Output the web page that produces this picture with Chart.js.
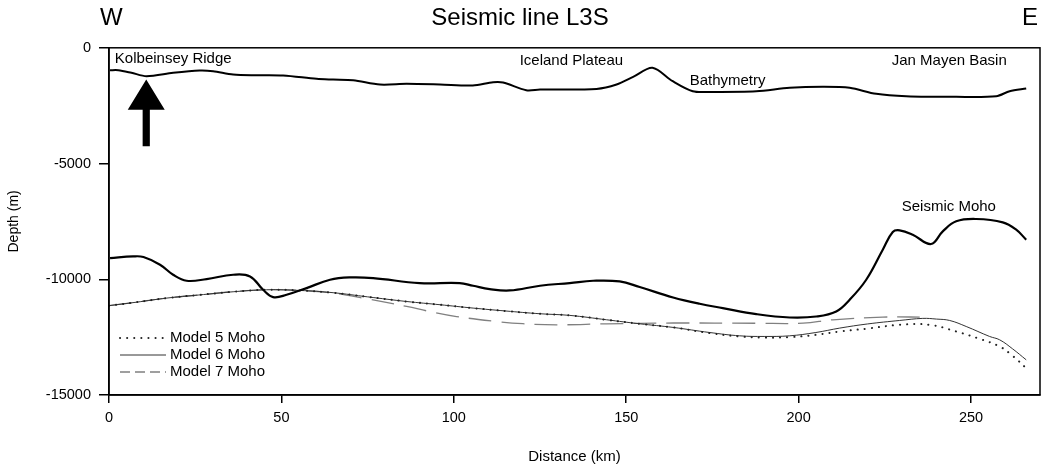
<!DOCTYPE html>
<html>
<head>
<meta charset="utf-8">
<script src="https://cdn.jsdelivr.net/npm/chart.js@4/dist/chart.umd.min.js"></script>
<style>
  html, body { margin: 0; padding: 0; background: #fff; }
  #wrap { width: 1048px; height: 468px; }
</style>
</head>
<body>
<div id="wrap"><canvas id="chart" width="1048" height="468"></canvas></div>
<script>
// distance (km) and depth (m)
const bathyKm = [0.3, 2.7, 6.5, 10.9, 18.6, 26.3, 30.2, 36, 43, 50.5, 60.2, 65, 70.8, 78.6, 86.3, 96, 105.5, 111.4, 114.3, 121, 125, 141.4, 147.2, 152, 157.6, 163.5, 169.3, 174.2, 187.7, 197.4, 207, 214.8, 222.5, 231.2, 245.7, 257.3, 261.2, 266];
const bathyDepth = [-969, -969, -1080, -1228, -1081, -982, -1012, -1155, -1185, -1198, -1341, -1371, -1400, -1587, -1557, -1587, -1630, -1487, -1500, -1833, -1803, -1775, -1587, -1254, -865, -1444, -1877, -1905, -1877, -1730, -1687, -1730, -1990, -2093, -2120, -2093, -1877, -1760];

const mohoKm = [0.3, 7, 10, 14.8, 18.6, 22.5, 28.3, 36, 40.9, 44.7, 47.6, 51.5, 57.3, 64.1, 69.9, 76.6, 90.1, 101.7, 105.6, 110.4, 116.2, 125, 133.6, 140.4, 148.1, 153.9, 163.6, 171.3, 178, 187.7, 197.4, 205.1, 210.9, 214.8, 219.6, 224.4, 227.3, 229.3, 233.1, 238.4, 241.8, 245.7, 251.5, 259.2, 263.1, 266];
const mohoDepth = [-9083, -9012, -9040, -9372, -9805, -10065, -9992, -9805, -9877, -10454, -10770, -10670, -10381, -10021, -9920, -9948, -10164, -10164, -10280, -10424, -10484, -10280, -10164, -10065, -10094, -10337, -10786, -11059, -11245, -11505, -11652, -11610, -11392, -10886, -10021, -8723, -7958, -7887, -8075, -8477, -7930, -7497, -7396, -7540, -7858, -8291];

const model5Km = [0, 8, 16.7, 26, 36, 45.7, 55.4, 65, 75, 86.3, 96, 105.6, 115, 125, 133.6, 144.3, 153.9, 163.6, 174.2, 182.9, 190, 197.4, 205, 211.9, 220, 229.3, 238, 245.7, 252, 258.3, 262, 266];
const model5Depth = [-11140, -10990, -10814, -10680, -10540, -10454, -10483, -10580, -10760, -10960, -11100, -11245, -11370, -11490, -11560, -11750, -11924, -12080, -12327, -12470, -12520, -12500, -12400, -12256, -12130, -11967, -11967, -12256, -12550, -12905, -13300, -13840];

const model6Km = [0, 8, 16.7, 26, 36, 45.7, 55.4, 65, 75, 86.3, 96, 105.6, 115, 125, 133.6, 144.3, 153.9, 163.6, 174.2, 182.9, 190, 197.4, 205, 211.9, 220, 229.3, 236, 240, 243.8, 248.6, 255.4, 258.3, 262, 266];
const model6Depth = [-11140, -10990, -10814, -10680, -10540, -10454, -10483, -10580, -10760, -10960, -11100, -11245, -11370, -11490, -11560, -11750, -11924, -12080, -12300, -12443, -12470, -12443, -12300, -12110, -11930, -11780, -11690, -11720, -11780, -12040, -12472, -12616, -13000, -13481];

const model7Km = [0, 8, 16.7, 26, 36, 45.7, 55.4, 64, 73.7, 86.3, 93, 100.8, 112.4, 120, 129.8, 144.3, 163.6, 187.7, 201.3, 209.9, 224.4, 237];
const model7Depth = [-11140, -10990, -10814, -10680, -10540, -10454, -10483, -10580, -10813, -11173, -11392, -11610, -11824, -11920, -11967, -11924, -11890, -11900, -11895, -11750, -11636, -11636];

const xTicks = [0, 50, 100, 150, 200, 250];
const yTicks = [0, -5000, -10000, -15000];

const legendNames = ["Model 5 Moho", "Model 6 Moho", "Model 7 Moho"];

// text labels placed in data coordinates (km, m)
const notes = [
  { text: "Kolbeinsey Ridge", x: 1.7, y: -476 },
  { text: "Iceland Plateau", x: 119.1, y: -549 },
  { text: "Bathymetry", x: 168.4, y: -1444 },
  { text: "Jan Mayen Basin", x: 227, y: -549 },
  { text: "Seismic Moho", x: 229.9, y: -6864 }
];
const arrowKm = 10.8, arrowTip = -1371, arrowNeck = -2680, arrowTail = -4256;

const FONT = "'Liberation Sans', Arial, sans-serif";

function pts(xs, ys) {
  return xs.map((x, i) => ({ x: x, y: ys[i] }));
}

const lineStyles = [
  { borderColor: "#222", borderWidth: 2, borderDash: [0.1, 7], borderCapStyle: "round" },
  { borderColor: "#333", borderWidth: 1, borderDash: [] , borderCapStyle: "butt" },
  { borderColor: "#808080", borderWidth: 1.3, borderDash: [23, 10], borderCapStyle: "butt" }
];

const decorPlugin = {
  id: "decor",
  afterDraw(chart) {
    const ctx = chart.ctx;
    const a = chart.chartArea;
    const xs = chart.scales.x, ys = chart.scales.y;
    ctx.save();

    // frame
    ctx.strokeStyle = "#000";
    ctx.lineWidth = 1.5;
    ctx.strokeRect(a.left, a.top, a.right - a.left, a.bottom - a.top);

    // W / E
    ctx.fillStyle = "#000";
    ctx.font = "24px " + FONT;
    ctx.textBaseline = "middle";
    ctx.textAlign = "left";
    ctx.fillText("W", a.left - 9, 18);
    ctx.textAlign = "right";
    ctx.fillText("E", a.right - 2, 18);

    // annotations
    ctx.font = "15px " + FONT;
    ctx.textAlign = "left";
    notes.forEach(n => {
      ctx.fillText(n.text, xs.getPixelForValue(n.x), ys.getPixelForValue(n.y));
    });

    // arrow
    const ax = xs.getPixelForValue(arrowKm);
    const tipY = ys.getPixelForValue(arrowTip);
    const neckY = ys.getPixelForValue(arrowNeck);
    const tailY = ys.getPixelForValue(arrowTail);
    ctx.beginPath();
    ctx.moveTo(ax, tipY);
    ctx.lineTo(ax + 18.5, neckY);
    ctx.lineTo(ax + 3.6, neckY);
    ctx.lineTo(ax + 3.6, tailY);
    ctx.lineTo(ax - 3.6, tailY);
    ctx.lineTo(ax - 3.6, neckY);
    ctx.lineTo(ax - 18.5, neckY);
    ctx.closePath();
    ctx.fill();

    // legend
    legendNames.forEach((name, i) => {
      const y = a.bottom - 57 + i * 17;
      const s = lineStyles[i];
      ctx.beginPath();
      ctx.strokeStyle = s.borderColor;
      ctx.lineWidth = s.borderWidth;
      ctx.lineCap = s.borderCapStyle;
      ctx.setLineDash(i === 2 ? [10, 5] : s.borderDash);
      ctx.moveTo(a.left + 11, y);
      ctx.lineTo(a.left + 57, y);
      ctx.stroke();
      ctx.setLineDash([]);
      ctx.fillStyle = "#000";
      ctx.fillText(name, a.left + 61, y);
    });
    ctx.restore();
  }
};

const datasets = [
  { label: "Bathymetry", data: pts(bathyKm, bathyDepth), borderColor: "#000", borderWidth: 2, tension: 0.3 },
  { label: "Seismic Moho", data: pts(mohoKm, mohoDepth), borderColor: "#000", borderWidth: 2.2, tension: 0.4 },
  Object.assign({ label: legendNames[0], data: pts(model5Km, model5Depth), tension: 0.4 }, lineStyles[0]),
  Object.assign({ label: legendNames[1], data: pts(model6Km, model6Depth), tension: 0.4 }, lineStyles[1]),
  Object.assign({ label: legendNames[2], data: pts(model7Km, model7Depth), tension: 0.4 }, lineStyles[2])
];
datasets.forEach(d => {
  d.pointRadius = 0;
  d.fill = false;
});

new Chart(document.getElementById("chart").getContext("2d"), {
  type: "line",
  data: { datasets: datasets },
  options: {
    responsive: false,
    animation: false,
    layout: { padding: { left: 0, right: 8, top: 0, bottom: 0 } },
    plugins: {
      legend: { display: false },
      tooltip: { enabled: false },
      title: {
        display: true,
        text: "Seismic line L3S",
        color: "#000",
        font: { family: FONT, size: 24, weight: "normal" },
        padding: { top: 4, bottom: 15 }
      }
    },
    scales: {
      x: {
        type: "linear",
        min: 0,
        max: 270,
        afterFit(scale) { scale.height = 73; },
        afterBuildTicks(scale) { scale.ticks = xTicks.map(v => ({ value: v })); },
        border: { color: "#000", width: 1.5 },
        grid: { drawOnChartArea: false, tickLength: 8, color: "#000", lineWidth: 1.5 },
        ticks: { color: "#000", padding: 6, maxRotation: 0, font: { family: FONT, size: 14.5 } },
        title: {
          display: true,
          text: "Distance (km)",
          color: "#000",
          font: { family: FONT, size: 15 },
          padding: { top: 0, bottom: 2 }
        }
      },
      y: {
        type: "linear",
        min: -15000,
        max: 0,
        afterFit(scale) { scale.width = 109; },
        afterBuildTicks(scale) { scale.ticks = yTicks.map(v => ({ value: v })); },
        border: { color: "#000", width: 1.5 },
        grid: { drawOnChartArea: false, tickLength: 10, color: "#000", lineWidth: 1.5 },
        ticks: {
          color: "#000",
          padding: 8,
          font: { family: FONT, size: 14.5 },
          callback: v => String(v)
        },
        title: {
          display: true,
          text: "Depth (m)",
          color: "#000",
          font: { family: FONT, size: 14 },
          padding: { top: 6, bottom: 0 }
        }
      }
    }
  },
  plugins: [decorPlugin]
});
</script>
</body>
</html>
